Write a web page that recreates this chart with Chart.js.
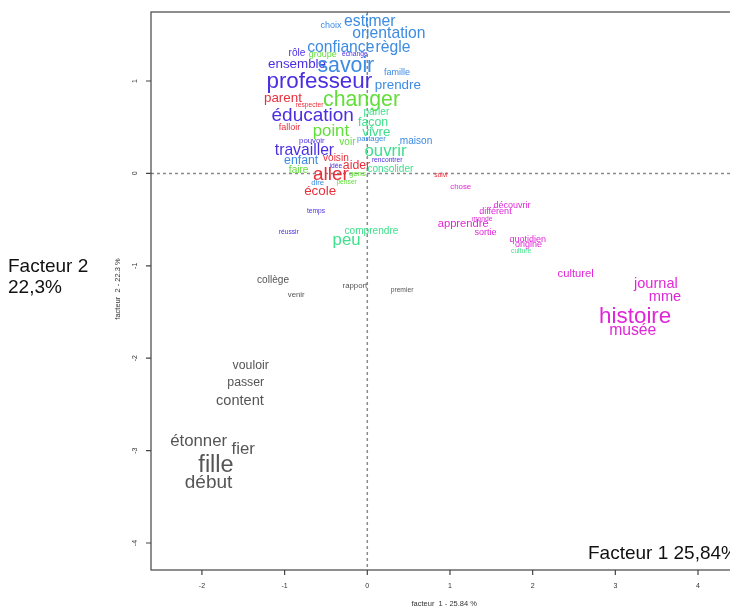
<!DOCTYPE html>
<html>
<head>
<meta charset="utf-8">
<script src="https://cdn.jsdelivr.net/npm/chart.js@4.4.1/dist/chart.umd.min.js"></script>
<style>
    html, body { margin: 0; padding: 0; background: #fff; overflow: hidden; }
    #wrap { position: relative; width: 740px; height: 609px; }
    .big { position: absolute; font-family: "Liberation Sans", Arial, sans-serif; font-size: 19px; color: #111; line-height: 21px; }
</style>
</head>
<body>
<div id="wrap">
    <canvas id="afc" width="740" height="609"></canvas>
    <div class="big" style="left:8px; top:255px;">Facteur 2<br>22,3%</div>
    <div class="big" style="left:588px; top:542px; white-space:nowrap;">Facteur 1 25,84%</div>
</div>
<script>
// words of the factorial map: coordinates on factor 1 / factor 2
const words = [
    "choix", "estimer", "orientation", "confiance", "règle", "rôle", "groupe", "échange",
    "ensemble", "savoir", "famille", "professeur", "prendre", "parent", "respecter", "changer",
    "parler", "éducation", "façon", "falloir", "point", "vivre", "pouvoir", "voir",
    "partager", "maison", "travailler", "ouvrir", "enfant", "voisin", "rencontrer", "idée",
    "aider", "faire", "aller", "gens", "consolider", "suivi", "dire", "penser",
    "école", "chose", "temps", "découvrir", "différent", "monde", "apprendre", "réussir",
    "comprendre", "sortie", "quotidien", "peu", "origine", "culture", "culturel", "collège",
    "rapport", "journal", "premier", "venir", "mme", "histoire", "musée", "vouloir",
    "passer", "content", "étonner", "fier", "fille", "début"
];
const factor1 = [
    -0.44, 0.03, 0.26, -0.32, 0.31, -0.85, -0.54, -0.15,
    -0.85, -0.26, 0.36, -0.58, 0.37, -1.02, -0.70, -0.07,
    0.11, -0.66, 0.07, -0.94, -0.44, 0.11, -0.67, -0.24,
    0.05, 0.59, -0.76, 0.22, -0.80, -0.38, 0.24, -0.38,
    -0.13, -0.83, -0.44, -0.12, 0.28, 0.89, -0.60, -0.25,
    -0.57, 1.13, -0.62, 1.75, 1.55, 1.39, 1.16, -0.95,
    0.05, 1.43, 1.94, -0.25, 1.95, 1.86, 2.52, -1.14,
    -0.15, 3.49, 0.42, -0.86, 3.60, 3.24, 3.21, -1.41,
    -1.47, -1.54, -2.04, -1.50, -1.83, -1.92
];
const factor2 = [
    1.60, 1.64, 1.51, 1.36, 1.36, 1.30, 1.29, 1.29,
    1.18, 1.16, 1.09, 0.99, 0.95, 0.81, 0.74, 0.79,
    0.66, 0.62, 0.55, 0.50, 0.45, 0.44, 0.35, 0.34,
    0.37, 0.35, 0.25, 0.24, 0.14, 0.16, 0.14, 0.08,
    0.08, 0.03, -0.01, 0.00, 0.05, -0.02, -0.10, -0.09,
    -0.19, -0.15, -0.41, -0.35, -0.41, -0.49, -0.55, -0.64,
    -0.63, -0.64, -0.71, -0.72, -0.77, -0.84, -1.09, -1.16,
    -1.22, -1.20, -1.26, -1.31, -1.34, -1.55, -1.70, -2.08,
    -2.26, -2.46, -2.90, -2.99, -3.16, -3.35
];
// class of each word (1 blue, 2 indigo, 3 green, 4 teal, 5 red, 6 magenta, 7 grey)
const classes = [
    1, 1, 1, 1, 1, 2, 3, 2,
    2, 1, 1, 2, 1, 5, 5, 3,
    4, 2, 4, 5, 3, 4, 2, 3,
    1, 1, 2, 4, 1, 5, 2, 2,
    5, 3, 5, 3, 4, 5, 1, 3,
    5, 6, 2, 6, 6, 6, 6, 2,
    4, 6, 6, 4, 6, 4, 6, 7,
    7, 6, 7, 7, 6, 6, 6, 7,
    7, 7, 7, 7, 7, 7
];
// weight of each word (drives the label size)
const weights = [
    8, 14, 14, 14, 14, 9, 8, 6,
    12, 19, 8, 20, 12, 12, 6, 19,
    9, 17, 11, 8, 15, 12, 7, 9,
    7, 9, 14, 15, 11, 9, 6, 6,
    11, 9, 17, 7, 9, 6, 7, 6,
    12, 7, 6, 8, 8, 6, 10, 6,
    9, 8, 8, 15, 8, 6, 10, 9,
    7, 13, 6, 7, 13, 20, 14, 11,
    11, 13, 15, 15, 21, 17
];
const xTicks = [-2, -1, 0, 1, 2, 3, 4];
const yTicks = [1, 0, -1, -2, -3, -4];

const classColors = {
    1: '#3d8be3', 2: '#4a2ee2', 3: '#62de3a', 4: '#40e08c',
    5: '#e8303c', 6: '#e026d8', 7: '#555555'
};
const FONT = '"Liberation Sans", Arial, sans-serif';
const SIZE_SCALE = 1.12;

const points = factor1.map((x, i) => ({ x: x, y: factor2[i] }));

// draws the R-like frame, dashed origin lines, ticks and the word labels
const mapPlugin = {
    id: 'mapPlugin',
    beforeDatasetsDraw(chart) {
        const { ctx, chartArea: a, scales: { x, y } } = chart;
        ctx.save();
        // dashed origin lines
        ctx.strokeStyle = '#8a8a8a';
        ctx.lineWidth = 1.5;
        ctx.setLineDash([3, 3]);
        const x0 = x.getPixelForValue(0), y0 = y.getPixelForValue(0);
        ctx.beginPath();
        ctx.moveTo(a.left, y0); ctx.lineTo(a.right, y0);
        ctx.moveTo(x0, a.top); ctx.lineTo(x0, a.bottom);
        ctx.stroke();
        ctx.setLineDash([]);
        // frame
        ctx.strokeStyle = '#444';
        ctx.lineWidth = 1.2;
        ctx.strokeRect(a.left, a.top, a.right - a.left, a.bottom - a.top);
        // ticks
        ctx.fillStyle = '#333';
        ctx.font = '7px ' + FONT;
        ctx.textAlign = 'center';
        ctx.textBaseline = 'middle';
        ctx.beginPath();
        xTicks.forEach(t => {
            const px = x.getPixelForValue(t);
            ctx.moveTo(px, a.bottom); ctx.lineTo(px, a.bottom + 5);
            ctx.fillText(String(t), px, a.bottom + 16);
        });
        yTicks.forEach(t => {
            const py = y.getPixelForValue(t);
            ctx.moveTo(a.left, py); ctx.lineTo(a.left - 5, py);
            ctx.save();
            ctx.translate(a.left - 16, py);
            ctx.rotate(-Math.PI / 2);
            ctx.fillText(String(t), 0, 0);
            ctx.restore();
        });
        ctx.stroke();
        // axis titles
        ctx.font = '7.5px ' + FONT;
        ctx.fillText('facteur  1 - 25.84 %', x.getPixelForValue(0.93), a.bottom + 34);
        ctx.save();
        ctx.translate(a.left - 33, 289);
        ctx.rotate(-Math.PI / 2);
        ctx.fillText('facteur  2 - 22.3 %', 0, 0);
        ctx.restore();
        ctx.restore();
    },
    afterDatasetsDraw(chart) {
        const { ctx } = chart;
        const meta = chart.getDatasetMeta(0);
        ctx.save();
        ctx.textAlign = 'center';
        ctx.textBaseline = 'middle';
        meta.data.forEach((el, i) => {
            ctx.fillStyle = classColors[classes[i]];
            ctx.font = (weights[i] * SIZE_SCALE).toFixed(1) + 'px ' + FONT;
            ctx.fillText(words[i], el.x, el.y);
        });
        ctx.restore();
    }
};

new Chart(document.getElementById('afc'), {
    type: 'scatter',
    data: {
        datasets: [{
            data: points,
            pointRadius: 0,
            pointHoverRadius: 0
        }]
    },
    options: {
        responsive: false,
        animation: false,
        events: [],
        layout: { padding: { left: 151, top: 12, right: 8, bottom: 39 } },
        plugins: { legend: { display: false }, tooltip: { enabled: false } },
        scales: {
            x: { type: 'linear', display: false, min: -2.616, max: 4.411 },
            y: { type: 'linear', display: false, min: -4.292, max: 1.747 }
        }
    },
    plugins: [mapPlugin]
});
</script>
</body>
</html>
